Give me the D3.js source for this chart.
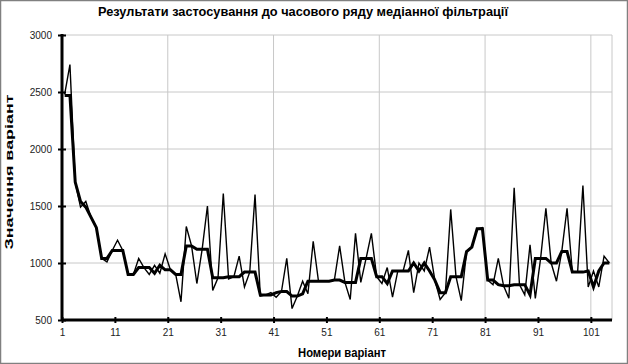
<!DOCTYPE html>
<html>
<head>
<meta charset="utf-8">
<script src="https://cdn.jsdelivr.net/npm/d3@7"></script>
<style>
  body { margin: 0; background: #fff; }
  text { font-family: "Liberation Sans", Arial, sans-serif; }
  .tick-label { font-size: 10px; fill: #222; }
  .axis-title { font-size: 12px; font-weight: bold; }
</style>
</head>
<body>
<svg id="canvas"></svg>
<script>
// Chart data.
var variantNumbers = d3.range(1, 105);

// Original time series values.
var rawValues = [
  2480, 2740, 1710, 1490, 1540, 1400, 1310, 1040, 1010, 1110,
  1200, 1110, 900, 900, 1040, 960, 900, 980, 910, 1080,
  940, 900, 660, 1320, 1150, 820, 1120, 1500, 760, 870,
  1610, 860, 880, 1060, 790, 920, 1600, 710, 720, 740,
  700, 750, 1040, 600, 710, 840, 730, 1190, 840, 840,
  840, 850, 1150, 830, 680, 1260, 830, 1040, 1260, 880,
  820, 960, 700, 930, 930, 1110, 740, 1000, 930, 1140,
  850, 680, 740, 1470, 880, 670, 1100, 1140, 1300, 1310,
  850, 810, 1040, 800, 690, 1660, 810, 720, 1160, 690,
  1040, 1480, 1000, 840, 1100, 1480, 920, 920, 1680, 790,
  930, 790, 1060, 1000
];

// Values after median filtering.
var medianValues = [
  2470, 2470, 1710, 1540, 1490, 1400, 1310, 1040, 1040, 1110,
  1110, 1110, 900, 900, 960, 960, 960, 910, 980, 940,
  940, 900, 900, 1150, 1150, 1120, 1120, 1120, 870, 870,
  870, 880, 880, 880, 920, 920, 920, 720, 720, 720,
  740, 750, 750, 710, 710, 730, 840, 840, 840, 840,
  840, 850, 850, 830, 830, 830, 1040, 1040, 1040, 880,
  880, 820, 930, 930, 930, 930, 1000, 930, 1000, 930,
  850, 740, 740, 880, 880, 880, 1100, 1140, 1300, 1300,
  850, 850, 810, 800, 800, 810, 810, 810, 720, 1040,
  1040, 1040, 1000, 1000, 1100, 1100, 920, 920, 920, 930,
  790, 930, 1000, 1000
];

// Axis ticks.
var xTickValues = [1, 11, 21, 31, 41, 51, 61, 71, 81, 91, 101];
var xGridValues = [21, 41, 61, 81, 101];
var yTickValues = [500, 1000, 1500, 2000, 2500, 3000];

// Texts.
var titles = {
  graph: 'Результати застосування до часового ряду медіанної фільтрації',
  x: 'Номери варіант',
  y: 'Значення варіант'
};

// Canvas properties.
var canvas = { width: 628, height: 364 };

// Plot area.
var plot = { left: 62, right: 612, top: 35, bottom: 320 };

var svg = d3.select('#canvas')
            .attr('width', canvas.width)
            .attr('height', canvas.height);

// Outer frame.
svg.append('rect')
   .attr('x', 0.5).attr('y', 0.5)
   .attr('width', canvas.width - 1).attr('height', canvas.height - 1)
   .attr('fill', '#fff')
   .attr('stroke', '#808080')
   .attr('stroke-width', 1.5);

// Scales.
var xScale = d3.scalePoint()
               .domain(variantNumbers)
               .range([plot.left, plot.right])
               .padding(0.5);
var step = xScale.step();

// Category boundary on the left of a category.
var xEdge = function(c) { return xScale(c) - step / 2; };

var yScale = d3.scaleLinear()
               .domain([500, 3000])
               .range([plot.bottom, plot.top]);

// Horizontal grid lines.
svg.append('g')
   .selectAll('line')
   .data(yTickValues.slice(1))
   .enter()
   .append('line')
   .attr('x1', plot.left).attr('x2', plot.right)
   .attr('y1', function(d) { return yScale(d); })
   .attr('y2', function(d) { return yScale(d); })
   .attr('stroke', '#c8c8c8')
   .attr('stroke-width', 1);

// Vertical grid lines.
svg.append('g')
   .selectAll('line')
   .data(xGridValues)
   .enter()
   .append('line')
   .attr('x1', function(d) { return xEdge(d); })
   .attr('x2', function(d) { return xEdge(d); })
   .attr('y1', plot.top).attr('y2', plot.bottom)
   .attr('stroke', '#c8c8c8')
   .attr('stroke-width', 1);

// Plot area right border.
svg.append('line')
   .attr('x1', plot.right).attr('x2', plot.right)
   .attr('y1', plot.top).attr('y2', plot.bottom)
   .attr('stroke', '#c8c8c8');

// Lines.
var line = function(values) {
  return d3.line()
           .x(function(d, i) { return xScale(variantNumbers[i]); })
           .y(function(d) { return yScale(d); })(values);
};

svg.append('path')
   .attr('d', line(rawValues))
   .attr('fill', 'none')
   .attr('stroke', '#000')
   .attr('stroke-width', 1.4)
   .attr('stroke-linejoin', 'miter');

svg.append('path')
   .attr('d', line(medianValues))
   .attr('fill', 'none')
   .attr('stroke', '#000')
   .attr('stroke-width', 3);

// Vertical axis.
var yAxis = svg.append('g')
               .attr('transform', 'translate(' + plot.left + ',0)')
               .call(d3.axisLeft(yScale).tickValues(yTickValues).tickFormat(d3.format('d')).tickSize(4).tickPadding(6));
yAxis.select('.domain').attr('stroke-width', 3).attr('d', 'M0,' + (plot.top - 1) + 'V' + plot.bottom);
yAxis.selectAll('.tick line').attr('x1', -4).attr('x2', 4).attr('stroke-width', 2);
yAxis.selectAll('.tick text').attr('class', 'tick-label').attr('font-size', null).attr('font-family', null);

// Horizontal axis with ticks on category boundaries.
var xAxisScale = d3.scaleLinear()
                   .domain([1, variantNumbers.length + 1])
                   .range([plot.left, plot.right]);
var xAxis = svg.append('g')
               .attr('transform', 'translate(0,' + plot.bottom + ')')
               .call(d3.axisBottom(xAxisScale).tickValues(xTickValues).tickSize(3).tickPadding(6));
xAxis.select('.domain').attr('stroke-width', 3).attr('d', 'M' + plot.left + ',0H' + plot.right);
xAxis.selectAll('.tick line').attr('y1', -3).attr('y2', 3).attr('stroke-width', 2);
xAxis.selectAll('.tick text').attr('class', 'tick-label').attr('font-size', null).attr('font-family', null);

// Graph title.
svg.append('text')
   .attr('x', 303).attr('y', 16)
   .attr('text-anchor', 'middle')
   .attr('font-size', '12.5px')
   .attr('font-weight', 'bold')
   .attr('textLength', 410)
   .attr('lengthAdjust', 'spacingAndGlyphs')
   .text(titles.graph);

// Axis titles.
svg.append('text')
   .attr('class', 'axis-title')
   .attr('text-anchor', 'middle')
   .attr('transform', 'translate(342,357)')
   .attr('textLength', 88)
   .attr('lengthAdjust', 'spacingAndGlyphs')
   .text(titles.x);

svg.append('text')
   .attr('class', 'axis-title')
   .attr('text-anchor', 'middle')
   .attr('transform', 'translate(13,172) rotate(-90)')
   .style('font-size', '11px')
   .attr('textLength', 155)
   .attr('lengthAdjust', 'spacingAndGlyphs')
   .text(titles.y);
</script>
</body>
</html>
